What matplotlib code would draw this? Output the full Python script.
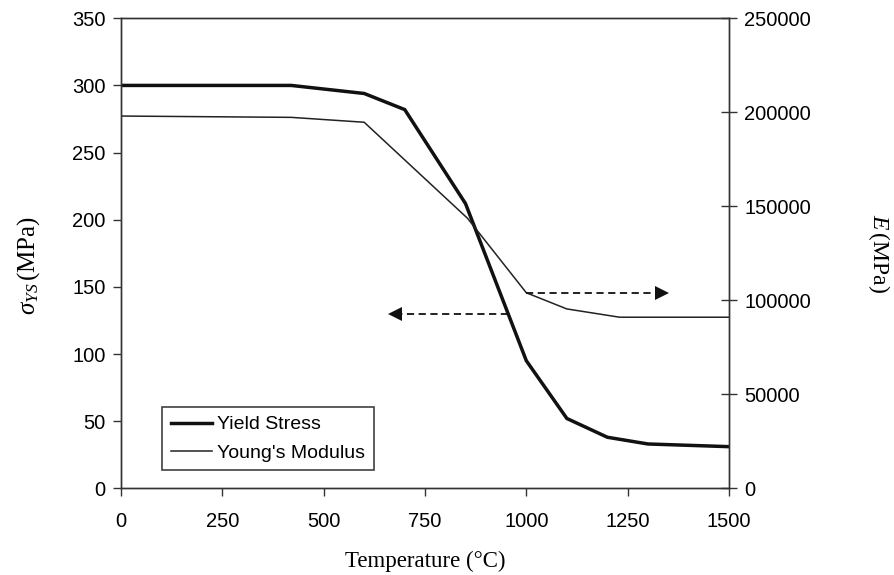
import matplotlib.pyplot as plt

# temperature-dependent material properties
temp_ys = [0, 420, 600, 700, 850, 1000, 1100, 1200, 1300, 1500]
yield_stress = [300, 300, 294, 282, 212, 95, 52, 38, 33, 31]

temp_e = [0, 420, 600, 855, 1000, 1100, 1230, 1500]
youngs_mod = [198000, 197300, 194700, 143600, 104000, 95400, 91000, 91000]

x_ticks = [0, 250, 500, 750, 1000, 1250, 1500]
ys_ticks = [0, 50, 100, 150, 200, 250, 300, 350]
e_ticks = [0, 50000, 100000, 150000, 200000, 250000]

# dashed arrows pointing each curve to its axis
arrow_left = ([955, 675], [130, 130])
arrow_right = ([1000, 1335], [104000, 104000])

sans = ['Liberation Sans', 'DejaVu Sans']
serif = ['Liberation Serif', 'DejaVu Serif']
plt.rcParams['font.family'] = sans
plt.rcParams['mathtext.fontset'] = 'custom'
plt.rcParams['mathtext.it'] = 'Liberation Serif:italic'
plt.rcParams['mathtext.rm'] = 'Liberation Serif'

fig = plt.figure(figsize=(8.95, 5.75), dpi=100)
ax = fig.add_axes([0.1352, 0.1508, 0.6793, 0.8174])
ax2 = ax.twinx()

l1, = ax.plot(temp_ys, yield_stress, color='#111111', lw=2.5, solid_joinstyle='miter')
l2, = ax2.plot(temp_e, youngs_mod, color='#222222', lw=1.1)

ax.plot(arrow_left[0], arrow_left[1], color='#111111', lw=1.3, ls=(0, (4, 2.5)))
ax.plot(arrow_left[0][-1], arrow_left[1][-1], marker='<', color='#111111', ms=10, mew=0)
ax2.plot(arrow_right[0], arrow_right[1], color='#111111', lw=1.3, ls=(0, (4, 2.5)))
ax2.plot(arrow_right[0][-1], arrow_right[1][-1], marker='>', color='#111111', ms=10, mew=0)

ax.set_xlim(0, 1500)
ax.set_ylim(0, 350)
ax2.set_ylim(0, 250000)
ax.set_xticks(x_ticks)
ax.set_yticks(ys_ticks)
ax2.set_yticks(e_ticks)

for a in (ax, ax2):
    for s in a.spines.values():
        s.set_color('#333333')
        s.set_linewidth(1.0)
ax.tick_params(axis='both', labelsize=14.5, length=6, width=1.0, color='#333333', pad=5)
ax.tick_params(axis='x', pad=11)
ax2.tick_params(axis='y', labelsize=14.5, direction='inout', length=12, width=1.0,
                color='#333333', pad=5)

ax.set_xlabel('Temperature (°C)', family=serif, fontsize=16.5, labelpad=14)
ax.set_ylabel(r'$\sigma_{YS}\,\mathrm{(MPa)}$', fontsize=18)
ax.yaxis.set_label_coords(-0.13, 0.475)
ax2.set_ylabel(r'$E\,\mathrm{(MPa)}$', fontsize=17, rotation=270, labelpad=58)

leg = ax.legend([l1, l2], ['Yield Stress', "Young's Modulus"], loc='lower left',
                bbox_to_anchor=(0.068, 0.038), fontsize=14, frameon=True, fancybox=False,
                edgecolor='#111111', handlelength=2.1, handletextpad=0.25,
                borderpad=0.45, labelspacing=0.55, borderaxespad=0)
leg.get_frame().set_linewidth(1.2)

fig.savefig('out.png', dpi=100)
